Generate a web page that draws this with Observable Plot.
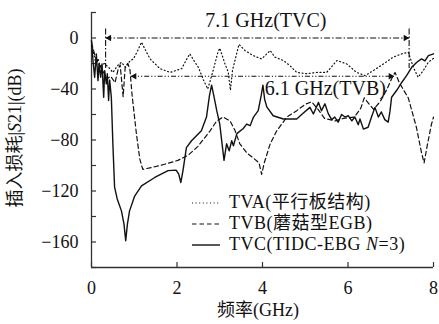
<!DOCTYPE html>
<html><head><meta charset="utf-8">
<script src="https://cdn.jsdelivr.net/npm/d3@7"></script>
<script src="https://cdn.jsdelivr.net/npm/@observablehq/plot@0.6"></script>
<style>
body{margin:0;background:#fff;}
#wrap{position:relative;width:439px;height:324px;font-family:"Liberation Serif","Noto Sans CJK SC",serif;color:#111;}
#legend{position:absolute;left:192px;top:192px;font-size:18px;letter-spacing:0.5px;}
.row{display:flex;align-items:center;height:21px;line-height:21px;white-space:nowrap;}
.row svg{margin-right:9px;}
</style></head><body><div id="wrap"></div>
<script>
// ---- data ----
const tvaF = [0,0.05,0.1,0.15,0.2,0.3,0.4,0.5,0.6,0.7,0.8,0.9,0.98,1.08,1.17,1.27,1.37,1.6,1.84,2.11,2.22,2.3,2.4,2.5,2.62,2.72,2.85,2.95,3.0,3.12,3.2,3.25,3.3,3.45,3.59,3.78,3.98,4.18,4.29,4.49,4.64,4.8,5.03,5.27,5.5,5.74,5.97,6.2,6.4,6.59,6.83,7.06,7.26,7.41,7.53,7.64,7.76,7.88,8.0];
const tvaDb = [-3,-12,-20,-16,-22,-20,-23,-27,-22,-19,-23,-18,-16.4,-10,-3.3,-10,-16.4,-24,-27,-24,-17,-12.4,-18,-23,-33,-40,-25,-12,-8,-20,-27,-41,-25,-5,-9.8,-13.8,-16.4,-9.8,-15,-17.7,-21.6,-27,-28,-27,-27,-17.7,-20.3,-27,-29.5,-25.6,-20.3,-15,-12.4,-11.2,-23,-30.8,-25.6,-19,-16];

const tvbF = [0,0.05,0.1,0.2,0.3,0.36,0.45,0.55,0.62,0.67,0.74,0.79,0.85,0.9,0.95,1.05,1.13,1.2,1.48,1.71,2.02,2.26,2.49,2.77,2.93,3.08,3.24,3.35,3.47,3.63,3.78,3.92,3.98,4.04,4.18,4.33,4.57,4.8,5.0,5.15,5.3,5.45,5.7,5.9,6.15,6.3,6.38,6.5,6.6,6.75,6.9,7.02,7.1,7.2,7.41,7.6,7.72,7.78,7.85,7.95,8.0];
const tvbDb = [-4,-10,-16,-22,-28,-32,-30,-35,-25,-21,-46,-22,-20,-25,-45,-75,-95,-103,-101,-99,-96,-92,-85,-73,-65,-62,-65,-72,-83,-90,-94,-98,-107,-98,-83,-73,-62,-57,-52,-50,-56,-63,-65,-63,-62,-55,-47,-52,-56,-50,-41,-32,-27,-35,-47,-70,-90,-98,-85,-68,-62];

const tvcF = [0,0.035,0.074,0.113,0.152,0.175,0.214,0.246,0.285,0.308,0.347,0.37,0.4,0.425,0.464,0.5,0.54,0.6,0.7,0.76,0.8,0.84,0.89,1.01,1.17,1.48,1.79,1.98,2.04,2.09,2.14,2.22,2.34,2.57,2.69,2.76,2.81,2.86,2.93,3.0,3.1,3.16,3.22,3.28,3.32,3.4,3.55,3.63,3.71,3.79,3.9,3.97,4.01,4.05,4.1,4.25,4.49,4.8,4.95,5.11,5.19,5.31,5.38,5.46,5.54,5.62,5.69,5.77,5.85,5.93,6.01,6.09,6.16,6.24,6.28,6.36,6.47,6.55,6.63,6.71,6.78,6.86,6.94,6.98,7.02,7.14,7.26,7.37,7.49,7.61,7.72,7.8,7.88,8.0];
const tvcDb = [-2,-17.7,-30.8,-12.5,-33.4,-20.3,-30.8,-20.3,-46.5,-25.6,-36,-28,-49,-33,-46.5,-83,-117,-126,-135.6,-146,-159,-146,-135.6,-124,-116,-109.4,-104,-103.6,-106.8,-113.3,-104,-86,-80.6,-72.7,-62,-45,-37,-45,-57,-67.5,-96,-83,-88.5,-80.6,-84.5,-75,-71,-67.5,-68.8,-62,-57,-45,-37,-48,-54,-61,-63.5,-63.5,-59,-54.4,-59.6,-50.5,-57,-51.6,-59.5,-64,-62,-66,-60,-62,-61,-65,-62,-68,-63.5,-71.4,-70,-62,-54.4,-62,-58,-64,-66,-58,-46.5,-41,-34.7,-29.5,-23,-19,-16.4,-18,-13.8,-12.4];

const seriesNames = ["TVA(平行板结构)", "TVB(蘑菇型EGB)", "TVC(TIDC-EBG N=3)"];

// bandwidth annotations
const bandLabels = ["7.1 GHz(TVC)", "6.1 GHz(TVB)"];
const bandStart = [0.33, 0.92];
const bandEnd = [7.43, 7.08];
const bandLevel = [0, -30];
const bandLabelX = [4.08, 5.47];
const bandLabelY = [13.8, -39.7];
const tvcMarkTop = 7, tvcMarkBottom = -24;

const xTicks = [0, 2, 4, 6, 8];
const yLabelTicks = [-160, -120, -80, -40, 0];
const yMinorTicks = [-180, -160, -140, -120, -100, -80, -60, -40, -20, 0, 20];

// ---- build ----
const toRows = (F, D) => F.map((f, i) => ({f, db: D[i]}));
const tva = toRows(tvaF, tvaDb), tvb = toRows(tvbF, tvbDb), tvc = toRows(tvcF, tvcDb);
const bands = bandLabels.map((t, i) => ({t, x1: bandStart[i], x2: bandEnd[i], y: bandLevel[i], lx: bandLabelX[i], ly: bandLabelY[i]}));
const fmt = d => d < 0 ? "\u2212" + Math.abs(d) : String(d);
const ink = "#111";
const dashes = ["6,2,1.5,2", "5,2,1.2,2,1.2,2"];

const plot = Plot.plot({
  width: 439, height: 324,
  marginTop: 12, marginLeft: 91, marginRight: 6, marginBottom: 57,
  x: {domain: [0, 8]},
  y: {domain: [-180, 20]},
  style: {fontFamily: '"Liberation Serif","Noto Sans CJK SC",serif', fontSize: "18px", color: ink, background: "transparent", overflow: "visible"},
  marks: [
    Plot.axisX(xTicks, {tickSize: -5, fill: "none", stroke: "#333", strokeWidth: 1.2, label: null}),
    Plot.axisX(xTicks, {tickSize: 0, tickPadding: 14, tickFormat: fmt, label: null, fontSize: 18}),
    Plot.axisY(yMinorTicks, {tickSize: -5, fill: "none", stroke: "#333", strokeWidth: 1.2, label: null}),
    Plot.axisY(yLabelTicks, {tickSize: 0, tickPadding: 13, tickFormat: fmt, label: null, fontSize: 18}),
    Plot.ruleX([0], {stroke: "#333", strokeWidth: 1.3}),
    Plot.ruleY([-180], {stroke: "#333", strokeWidth: 1.3}),
    // bandwidth markers
    Plot.link([bands[0]], {x1: "x1", x2: "x2", y1: "y", y2: "y", stroke: ink, strokeWidth: 1.1, strokeDasharray: dashes[0]}),
    Plot.link([bands[1]], {x1: "x1", x2: "x2", y1: "y", y2: "y", stroke: ink, strokeWidth: 1.1, strokeDasharray: dashes[1]}),
    Plot.ruleX([bandStart[0], bandEnd[0]], {y1: tvcMarkTop, y2: tvcMarkBottom, stroke: ink, strokeWidth: 1.1, strokeDasharray: dashes[0]}),
    Plot.dot(bands, {x: "x1", y: "y", symbol: "triangle", r: 2.4, rotate: -90, fill: ink, stroke: "none", dx: 3.6}),
    Plot.dot(bands, {x: "x2", y: "y", symbol: "triangle", r: 2.4, rotate: 90, fill: ink, stroke: "none", dx: -3.6}),
    Plot.text(bands, {x: "lx", y: "ly", text: "t", textAnchor: "middle", fontSize: 20, fill: ink}),
    // curves
    Plot.line(tva, {x: "f", y: "db", stroke: ink, strokeWidth: 1.2, strokeDasharray: "1,2.6"}),
    Plot.line(tvb, {x: "f", y: "db", stroke: ink, strokeWidth: 1.2, strokeDasharray: "4.5,3"}),
    Plot.line(tvc, {x: "f", y: "db", stroke: ink, strokeWidth: 1.4})
  ]
});

const wrap = document.getElementById("wrap");
wrap.appendChild(plot);

const svg = d3.select(plot);
// axis titles
const yl = svg.append("text")
  .attr("transform", "translate(15,138) rotate(-90)")
  .attr("text-anchor", "middle").attr("dominant-baseline", "central")
  .attr("font-size", 18).attr("fill", ink);
yl.append("tspan").text("插入损耗|");
yl.append("tspan").attr("font-style", "italic").text("S");
yl.append("tspan").text("21|(dB)");
svg.append("text").attr("x", 258).attr("y", 310)
  .attr("text-anchor", "middle").attr("dominant-baseline", "central")
  .attr("font-size", 18).attr("fill", ink).text("频率(GHz)");

// legend
const legend = document.createElement("div");
legend.id = "legend";
const swatchDash = ["1,2.6", "4.5,3", null];
seriesNames.forEach((name, i) => {
  const row = document.createElement("div");
  row.className = "row";
  const sw = d3.create("svg").attr("width", 28).attr("height", 10);
  sw.append("line").attr("x1", 0).attr("x2", 28).attr("y1", 5).attr("y2", 5)
    .attr("stroke", ink).attr("stroke-width", i === 2 ? 1.4 : 1.2)
    .attr("stroke-dasharray", swatchDash[i]);
  row.appendChild(sw.node());
  const span = document.createElement("span");
  if (i === 2) {
    span.innerHTML = "TVC(TIDC-EBG <i>N</i>=3)";
  } else span.textContent = name;
  row.appendChild(span);
  legend.appendChild(row);
});
wrap.appendChild(legend);
</script></body></html>
